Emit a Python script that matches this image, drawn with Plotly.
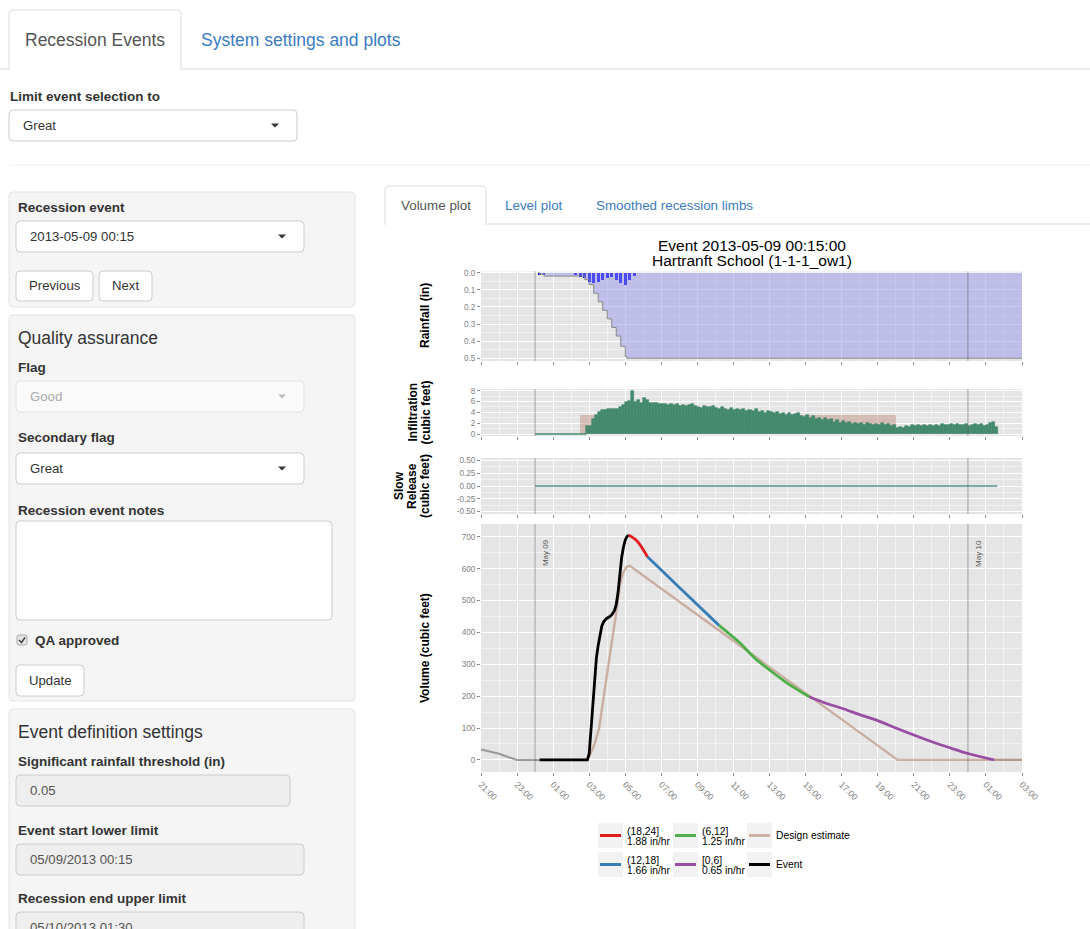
import pandas as pd
import plotly.graph_objects as go

W, H = 1090, 929
FONT = "Liberation Sans, Arial, sans-serif"

# ---------------- data ----------------
x_range = ["2013-05-08 21:00", "2013-05-10 03:00"]
day_marks = ["2013-05-09 00:00", "2013-05-10 00:00"]
day_labels = ["May 09", "May 10"]

# incremental rainfall (in), 15-minute totals
rain_time = ["2013-05-09 00:15", "2013-05-09 00:30", "2013-05-09 02:15", "2013-05-09 02:30",
             "2013-05-09 02:45", "2013-05-09 03:00", "2013-05-09 03:15", "2013-05-09 03:30",
             "2013-05-09 03:45", "2013-05-09 04:00", "2013-05-09 04:15", "2013-05-09 04:30",
             "2013-05-09 04:45", "2013-05-09 05:00", "2013-05-09 05:15", "2013-05-09 05:30"]
rain_in = [0.01, 0.01, 0.01, 0.02, 0.03, 0.05, 0.06, 0.05, 0.04, 0.03, 0.02, 0.04, 0.055, 0.07, 0.04, 0.015]

# cumulative rainfall (in)
cum_rain_time = ["2013-05-09 00:10", "2013-05-09 00:15", "2013-05-09 00:30", "2013-05-09 02:30",
                 "2013-05-09 02:45", "2013-05-09 03:00", "2013-05-09 03:15", "2013-05-09 03:30",
                 "2013-05-09 03:45", "2013-05-09 04:00", "2013-05-09 04:15", "2013-05-09 04:30",
                 "2013-05-09 04:45", "2013-05-09 05:00", "2013-05-09 05:05", "2013-05-10 03:00"]
cum_rain_in = [0.0, 0.01, 0.02, 0.02, 0.04, 0.07, 0.12, 0.17, 0.22, 0.27, 0.32, 0.37, 0.43, 0.49, 0.5, 0.5]

# observed infiltration (cubic feet), 10-minute steps from infil_start
infil_start = "2013-05-09 02:50"
infil_cf = [1.5, 1.5, 2.8, 3.6, 4.1, 4.5, 4.5, 4.6, 4.6, 4.6, 4.7, 5.0, 5.3, 5.9, 6.1, 8.0,
            5.9, 6.3, 5.8, 6.7, 6.2, 5.8, 5.7, 5.8, 5.6, 5.5, 5.6, 5.4, 5.5, 5.3, 5.5, 5.2,
            5.4, 5.1, 5.3, 5.6, 5.2, 5.0, 4.8, 5.1, 5.0, 4.9, 5.2, 4.8, 4.6, 4.9, 4.7, 4.4,
            4.8, 4.5, 4.7, 4.4, 4.6, 4.3, 4.5, 4.2, 4.6, 4.1, 4.3, 3.9, 4.2, 4.0, 3.8, 4.1,
            3.7, 3.9, 3.6, 3.8, 3.5, 3.7, 3.9, 3.4, 3.2, 3.5, 3.0, 3.3, 2.8, 3.0, 2.6, 2.9,
            2.5, 2.7, 2.3, 2.5, 2.1, 2.4, 2.0, 2.2, 1.9, 2.1, 1.8, 2.0, 1.7, 2.1, 1.8, 1.6,
            1.9, 1.7, 2.0, 1.6, 1.8, 1.5, 1.7, 1.2, 1.3, 1.1, 1.4, 1.3, 1.6, 1.4, 1.7, 1.5,
            1.6, 1.4, 1.7, 1.5, 1.6, 1.4, 1.8, 1.6, 1.7, 1.8, 1.6, 1.9, 1.7, 1.6, 1.8, 1.5,
            1.7, 1.9, 1.6, 1.8, 1.5, 1.7, 2.1, 2.3, 1.3]
infil_zero_time = ["2013-05-09 00:00", "2013-05-09 02:50"]
infil_zero_cf = [0, 0]

# design infiltration: constant rate between start and end time
design_infil_time = ["2013-05-09 02:30", "2013-05-09 20:00"]
design_infil_cf = 3.5

slow_time = ["2013-05-09 00:00", "2013-05-10 01:38"]
slow_cf = [0, 0]

# storage volume (cubic feet)
pre_vol_time = ["2013-05-08 21:00", "2013-05-08 21:30", "2013-05-08 22:00", "2013-05-08 22:30",
                "2013-05-08 23:00", "2013-05-09 00:15"]
pre_vol_cf = [33, 27, 19, 9, 0, 0]
post_vol_time = ["2013-05-10 01:27", "2013-05-10 03:00"]
post_vol_cf = [0, 0]

event_time = ["2013-05-09 00:15", "2013-05-09 02:54", "2013-05-09 03:00", "2013-05-09 03:06",
              "2013-05-09 03:12", "2013-05-09 03:18", "2013-05-09 03:24", "2013-05-09 03:30",
              "2013-05-09 03:36", "2013-05-09 03:42", "2013-05-09 03:48", "2013-05-09 03:57",
              "2013-05-09 04:06", "2013-05-09 04:15", "2013-05-09 04:24", "2013-05-09 04:30",
              "2013-05-09 04:36", "2013-05-09 04:42", "2013-05-09 04:48", "2013-05-09 04:54",
              "2013-05-09 05:00", "2013-05-09 05:06", "2013-05-09 05:12"]
event_cf = [0, 0, 20, 95, 190, 270, 320, 360, 395, 420, 433, 443, 448, 455, 468, 488,
            525, 585, 635, 668, 690, 701, 705]

limb_labels = ["(18,24]", "(12,18]", "(6,12]", "[0,6]"]
limb_rates = ["1.88 in/hr", "1.66 in/hr", "1.25 in/hr", "0.65 in/hr"]
limb_colors = ["#e41a1c", "#377eb8", "#4daf4a", "#984ea3"]
limb_time = [
    ["2013-05-09 05:12", "2013-05-09 05:40", "2013-05-09 06:14"],
    ["2013-05-09 06:14", "2013-05-09 08:00", "2013-05-09 10:12"],
    ["2013-05-09 10:12", "2013-05-09 11:20", "2013-05-09 12:12", "2013-05-09 13:00",
     "2013-05-09 13:48", "2013-05-09 14:30", "2013-05-09 15:12"],
    ["2013-05-09 15:12", "2013-05-09 16:00", "2013-05-09 17:00", "2013-05-09 18:00",
     "2013-05-09 19:00", "2013-05-09 20:00", "2013-05-09 21:00", "2013-05-09 22:00",
     "2013-05-09 23:00", "2013-05-10 00:00", "2013-05-10 01:27"],
]
limb_cf = [
    [705, 686, 637],
    [637, 541, 422],
    [422, 368, 318, 282, 248, 222, 198],
    [198, 180, 162, 142, 123, 100, 78, 57, 38, 20, 0],
]

design_time = ["2013-05-09 00:15", "2013-05-09 02:48", "2013-05-09 03:00", "2013-05-09 03:18",
               "2013-05-09 03:33", "2013-05-09 03:48", "2013-05-09 04:04", "2013-05-09 04:11",
               "2013-05-09 04:21", "2013-05-09 04:28", "2013-05-09 04:34", "2013-05-09 04:41",
               "2013-05-09 04:52", "2013-05-09 05:05", "2013-05-09 05:15", "2013-05-09 20:06",
               "2013-05-10 03:00"]
design_cf = [0, 0, 10, 50, 100, 200, 300, 349, 407, 449, 490, 543, 585, 606, 609, 0, 0]

TAN = "rgba(185,135,115,0.45)"
TAN_LINE = "rgba(190,150,130,0.7)"
GREEN = "#43896d"

# ---------------- helpers ----------------
def X(px):
    return px / W


def Y(py):
    return 1 - py / H


def xdom(l, r):
    return [l / W, r / W]


def ydom(t, b):
    return [1 - b / H, 1 - t / H]


shapes = []
annos = []


def path_px(pts, close=True):
    s = "M" + " L".join(f"{X(a):.5f},{Y(b):.5f}" for a, b in pts)
    return s + (" Z" if close else "")


def rrect(x0, y0, x1, y1, r=4, fill="white", line="#cccccc", lw=1, open_bottom=False):
    rx, ry = r / W, r / H
    a0, a1, b0, b1 = X(x0), X(x1), Y(y0), Y(y1)
    if open_bottom:
        p = (f"M{a0},{b1} L{a0},{b0 - ry} Q{a0},{b0} {a0 + rx},{b0} L{a1 - rx},{b0} "
             f"Q{a1},{b0} {a1},{b0 - ry} L{a1},{b1}")
    else:
        p = (f"M{a0 + rx},{b0} L{a1 - rx},{b0} Q{a1},{b0} {a1},{b0 - ry} L{a1},{b1 + ry} "
             f"Q{a1},{b1} {a1 - rx},{b1} L{a0 + rx},{b1} Q{a0},{b1} {a0},{b1 + ry} "
             f"L{a0},{b0 - ry} Q{a0},{b0} {a0 + rx},{b0} Z")
    shapes.append(dict(type="path", xref="paper", yref="paper", path=p, fillcolor=fill,
                       line=dict(color=line, width=lw)))


def hline(x0, x1, y, color, w=1):
    shapes.append(dict(type="line", xref="paper", yref="paper", x0=X(x0), x1=X(x1),
                       y0=Y(y), y1=Y(y), line=dict(color=color, width=w)))


def label(x, y, s, size=13.2, color="#333333", bold=False, anchor="left", angle=0):
    annos.append(dict(xref="paper", yref="paper", x=X(x), y=Y(y),
                      text=f"<b>{s}</b>" if bold else s, showarrow=False,
                      xanchor=anchor, yanchor="middle", textangle=angle, borderpad=0,
                      font=dict(family=FONT, size=size, color=color)))


def caret(x, y, color="#333333"):
    shapes.append(dict(type="path", xref="paper", yref="paper",
                       path=path_px([(x - 4, y - 2), (x + 4, y - 2), (x, y + 2)]),
                       fillcolor=color, line=dict(width=0)))


def select(x0, y0, x1, y1, text, disabled=False):
    rrect(x0, y0, x1, y1, fill="#fafafa" if disabled else "white",
          line="#e2e2e2" if disabled else "#cccccc")
    yc = (y0 + y1) / 2
    label(x0 + 13, yc, text, 13.2, "#aaaaaa" if disabled else "#333333")
    caret(x1 - 22, yc, "#bbbbbb" if disabled else "#333333")


def button(x0, y0, x1, y1, text):
    rrect(x0, y0, x1, y1, fill="white", line="#cccccc")
    label((x0 + x1) / 2, (y0 + y1) / 2, text, 13.2, "#333333", anchor="center")


def text_input(x0, y0, x1, y1, text):
    rrect(x0, y0, x1, y1, fill="#eeeeee", line="#cccccc")
    label(x0 + 13, (y0 + y1) / 2, text, 13.2, "#555555")


BOLD = 13.5
HEAD = 17.5

# ---------------- page chrome ----------------
hline(0, 1090, 69, "#dddddd")
rrect(9, 10, 181, 70, fill="white", line="#dddddd", open_bottom=True)
label(95, 40, "Recession Events", HEAD, "#555555", anchor="center")
label(200, 40, "System settings and plots", HEAD, "#3b7bbf")

label(9, 96, "Limit event selection to", BOLD, "#333333", bold=True)
select(9, 110, 297, 141, "Great")
hline(9, 1090, 165, "#eeeeee")

# well panels
rrect(9, 192, 355, 307, fill="#f5f5f5", line="#e3e3e3")
rrect(9, 315, 355, 701, fill="#f5f5f5", line="#e3e3e3")
rrect(9, 709, 355, 960, fill="#f5f5f5", line="#e3e3e3")

label(17, 207, "Recession event", BOLD, bold=True)
select(16, 221, 304, 252, "2013-05-09 00:15")
button(16, 271, 93, 301, "Previous")
button(99, 271, 152, 301, "Next")

label(17, 338, "Quality assurance", HEAD, "#333333")
label(17, 367, "Flag", BOLD, bold=True)
select(16, 381, 304, 412, "Good", disabled=True)
label(17, 438, "Secondary flag", BOLD, bold=True)
select(16, 453, 304, 484, "Great")
label(17, 511, "Recession event notes", BOLD, bold=True)
rrect(16, 521, 332, 620, fill="white", line="#cccccc")
rrect(17, 635, 27, 645, r=2, fill="#e6e6e6", line="#aaaaaa")
shapes.append(dict(type="path", xref="paper", yref="paper",
                   path=path_px([(19, 640), (21.5, 642.5), (25, 637.5)], close=False),
                   line=dict(color="#444444", width=1.5)))
label(34, 640, "QA approved", BOLD, bold=True)
button(16, 665, 84, 696, "Update")

label(17, 732, "Event definition settings", HEAD, "#333333")
label(17, 761, "Significant rainfall threshold (in)", BOLD, bold=True)
text_input(16, 775, 290, 806, "0.05")
label(17, 830, "Event start lower limit", BOLD, bold=True)
text_input(16, 844, 304, 875, "05/09/2013 00:15")
label(17, 898, "Recession end upper limit", BOLD, bold=True)
text_input(16, 912, 304, 943, "05/10/2013 01:30")

# plot tabs
hline(385, 1090, 224, "#dddddd")
rrect(385, 186, 486, 225, fill="white", line="#dddddd", open_bottom=True)
label(435.5, 205, "Volume plot", 13.4, "#555555", anchor="center")
label(504, 205, "Level plot", 13.4, "#3b7bbf")
label(595, 205, "Smoothed recession limbs", 13.4, "#3b7bbf")

# ---------------- figure ----------------
fig = go.Figure()

# rainfall panel
fig.add_trace(go.Scatter(x=cum_rain_time, y=cum_rain_in, mode="lines", line_shape="hv",
                         line=dict(color="#8a8a8a", width=1), fill="tozeroy",
                         fillcolor="rgba(150,150,235,0.5)", xaxis="x", yaxis="y",
                         hoverinfo="skip"))
fig.add_trace(go.Bar(x=rain_time, y=rain_in, width=540000,
                     marker=dict(color="#0000ff", line=dict(width=0)),
                     xaxis="x", yaxis="y", hoverinfo="skip"))

# infiltration panel (design rate drawn first so observed bars sit on top)
d0, d1 = pd.Timestamp(design_infil_time[0]), pd.Timestamp(design_infil_time[1])
fig.add_trace(go.Bar(x=[d0], y=[design_infil_cf], width=[(d1 - d0).total_seconds() * 1000],
                     offset=0, marker=dict(color=TAN, line=dict(width=0)),
                     xaxis="x2", yaxis="y2", hoverinfo="skip"))
infil_time = pd.date_range(infil_start, periods=len(infil_cf), freq="10min")
fig.add_trace(go.Bar(x=infil_time, y=infil_cf, width=600000, offset=0,
                     marker=dict(color=GREEN, line=dict(color=GREEN, width=0.6)),
                     xaxis="x2", yaxis="y2", hoverinfo="skip"))
fig.add_trace(go.Scatter(x=infil_zero_time, y=infil_zero_cf, mode="lines",
                         line=dict(color=GREEN, width=1.6), xaxis="x2", yaxis="y2",
                         hoverinfo="skip"))

# slow release panel
fig.add_trace(go.Scatter(x=slow_time, y=slow_cf, mode="lines", line=dict(color="#5a9090", width=1.5),
                         xaxis="x3", yaxis="y3", hoverinfo="skip"))

# volume panel
fig.add_trace(go.Scatter(x=pre_vol_time, y=pre_vol_cf, mode="lines",
                         line=dict(color="rgba(120,120,120,0.7)", width=2),
                         xaxis="x4", yaxis="y4", hoverinfo="skip"))
fig.add_trace(go.Scatter(x=post_vol_time, y=post_vol_cf, mode="lines",
                         line=dict(color="rgba(120,120,120,0.7)", width=2),
                         xaxis="x4", yaxis="y4", hoverinfo="skip"))
fig.add_trace(go.Scatter(x=design_time, y=design_cf, mode="lines",
                         line=dict(color=TAN_LINE, width=2.4),
                         xaxis="x4", yaxis="y4", hoverinfo="skip"))
fig.add_trace(go.Scatter(x=event_time, y=event_cf, mode="lines",
                         line=dict(color="black", width=2.8),
                         xaxis="x4", yaxis="y4", hoverinfo="skip"))
for t, v, c in zip(limb_time, limb_cf, limb_colors):
    fig.add_trace(go.Scatter(x=t, y=v, mode="lines", line_shape="spline",
                             line=dict(color=c, width=2.8, smoothing=0.8),
                             xaxis="x4", yaxis="y4", hoverinfo="skip"))

# ---------------- axes ----------------
XD = xdom(481, 1022)
panels = {
    "": dict(top=271.5, bottom=361, range=[0.516, -0.007], dtick=0.1, minor=0.05, fmt=".1f"),
    "2": dict(top=389, bottom=436, range=[-0.37, 8.31], dtick=2, minor=1, fmt="d"),
    "3": dict(top=458, bottom=514, range=[-0.55, 0.55], dtick=0.25, minor=0.125, fmt=".2f"),
    "4": dict(top=524, bottom=772, range=[-38, 740], dtick=100, minor=50, fmt="d"),
}
tickfont = dict(family=FONT, size=8.2, color="#7f7f7f")
layout_axes = {}
for k, p in panels.items():
    layout_axes["xaxis" + k] = dict(
        type="date", domain=XD, anchor="y" + k, range=x_range, automargin=False,
        tick0="2013-05-08 21:00:00", dtick=7200000, tickformat="%H:%M", tickangle=45,
        showticklabels=(k == "4"), ticks="outside", ticklen=3, tickcolor="#8c8c8c",
        tickfont=dict(family=FONT, size=8.8, color="#7f7f7f"),
        showgrid=True, gridcolor="white", gridwidth=1.2,
        minor=dict(tick0="2013-05-08 21:00:00", dtick=3600000, showgrid=True,
                   gridcolor="#f2f2f2", gridwidth=0.6),
        zeroline=False, showline=False, fixedrange=True)
    yax = dict(domain=ydom(p["top"], p["bottom"]), anchor="x" + k, range=p["range"],
               automargin=False,
               tick0=0, dtick=p["dtick"], tickformat=p["fmt"], ticks="outside", ticklen=3,
               tickcolor="#8c8c8c", tickfont=tickfont,
               showgrid=True, gridcolor="white", gridwidth=1.2,
               minor=dict(tick0=0, dtick=p["minor"], showgrid=True, gridcolor="#f2f2f2",
                          gridwidth=0.6),
               zeroline=False, showline=False, fixedrange=True)
    if k == "3":
        vals = [-0.5, -0.25, 0, 0.25, 0.5]
        yax.update(tickmode="array", tickvals=vals, ticktext=[f"{v:.2f}" for v in vals])
    layout_axes["yaxis" + k] = yax

# day boundaries
for k in ["", "2", "3", "4"]:
    for d in day_marks:
        shapes.append(dict(type="line", xref="x" + k, yref=("y" + k) + " domain", x0=d, x1=d,
                           y0=0, y1=1, layer="above",
                           line=dict(color="rgba(90,90,90,0.55)", width=1)))
for d, lab in zip(day_marks, day_labels):
    annos.append(dict(xref="x4", yref="paper", x=d, xshift=10, y=Y(553), text=lab,
                      textangle=-90, showarrow=False, xanchor="center", yanchor="middle",
                      font=dict(family=FONT, size=8, color="#555555")))

# titles
label(751.5, 245, "Event 2013-05-09 00:15:00", 15.5, "black", anchor="center")
label(751.5, 260, "Hartranft School (1-1-1_ow1)", 15.5, "black", anchor="center")
AX = 12
label(425, 316, "Rainfall (in)", AX, "black", bold=True, anchor="center", angle=-90)
label(412, 412.5, "Infiltration", AX, "black", bold=True, anchor="center", angle=-90)
label(425, 412.5, "(cubic feet)", AX, "black", bold=True, anchor="center", angle=-90)
label(399, 486, "Slow", AX, "black", bold=True, anchor="center", angle=-90)
label(412, 486, "Release", AX, "black", bold=True, anchor="center", angle=-90)
label(425, 486, "(cubic feet)", AX, "black", bold=True, anchor="center", angle=-90)
label(425, 648, "Volume (cubic feet)", AX, "black", bold=True, anchor="center", angle=-90)

# legend
legend_entries = [(limb_labels[0], limb_rates[0], limb_colors[0]),
                  (limb_labels[1], limb_rates[1], limb_colors[1]),
                  (limb_labels[2], limb_rates[2], limb_colors[2]),
                  (limb_labels[3], limb_rates[3], limb_colors[3]),
                  ("Design estimate", None, TAN_LINE),
                  ("Event", None, "black")]
col_x = [598, 673, 747]
row_y = [823, 852]
for i, (l1, l2, c) in enumerate(legend_entries):
    x0, y0 = col_x[i // 2], row_y[i % 2]
    shapes.append(dict(type="rect", xref="paper", yref="paper", x0=X(x0), x1=X(x0 + 25),
                       y0=Y(y0 + 25), y1=Y(y0), fillcolor="#f2f2f2", line=dict(width=0)))
    shapes.append(dict(type="line", xref="paper", yref="paper", x0=X(x0 + 2), x1=X(x0 + 23),
                       y0=Y(y0 + 12.5), y1=Y(y0 + 12.5), line=dict(color=c, width=3)))
    if l2 is None:
        label(x0 + 28, y0 + 12.5, l1, 10.3, "black")
    else:
        label(x0 + 28, y0 + 8, l1, 10.3, "black")
        label(x0 + 28, y0 + 18, l2, 10.3, "black")

fig.update_layout(
    width=W, height=H, margin=dict(l=0, r=0, t=0, b=0, pad=0, autoexpand=False),
    paper_bgcolor="white", plot_bgcolor="#e5e5e5", showlegend=False, bargap=0,
    font=dict(family=FONT), shapes=shapes, annotations=annos, **layout_axes)

fig.write_html("out.html", config={"displayModeBar": False},
               post_script="document.body.style.margin='0';document.body.style.overflow='hidden';")
